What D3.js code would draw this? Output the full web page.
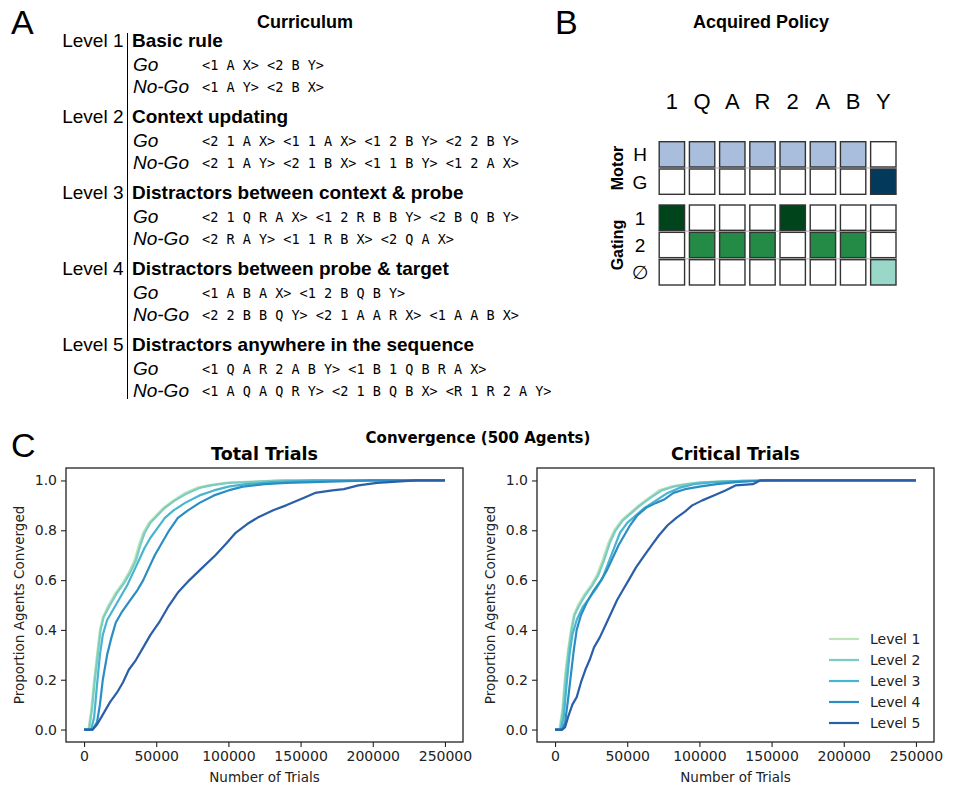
<!DOCTYPE html>
<html>
<head>
<meta charset="utf-8">
<script src="https://cdn.jsdelivr.net/npm/d3@7"></script>
<style>
  html, body { margin: 0; padding: 0; background: #fff; }
  svg { display: block; }
</style>
</head>
<body>
<svg id="fig" width="957" height="789"></svg>
<script>
// ---------------- DATA ----------------
// Panel A: curriculum
const levelNames = ["Level 1", "Level 2", "Level 3", "Level 4", "Level 5"];
const levelTitles = ["Basic rule", "Context updating", "Distractors between context & probe",
  "Distractors between probe & target", "Distractors anywhere in the sequence"];
const goSequences = ["<1 A X> <2 B Y>", "<2 1 A X> <1 1 A X> <1 2 B Y> <2 2 B Y>",
  "<2 1 Q R A X> <1 2 R B B Y> <2 B Q B Y>", "<1 A B A X> <1 2 B Q B Y>",
  "<1 Q A R 2 A B Y> <1 B 1 Q B R A X>"];
const noGoSequences = ["<1 A Y> <2 B X>", "<2 1 A Y> <2 1 B X> <1 1 B Y> <1 2 A X>",
  "<2 R A Y> <1 1 R B X> <2 Q A X>", "<2 2 B B Q Y> <2 1 A A R X> <1 A A B X>",
  "<1 A Q A Q R Y> <2 1 B Q B X> <R 1 R 2 A Y>"];

// Panel B: acquired policy
const policyTokens = ["1", "Q", "A", "R", "2", "A", "B", "Y"];
const motorRows = ["H", "G"];
const gatingRows = ["1", "2", "\u2205"];
const motorPolicy = [[1,1,1,1,1,1,1,0],[0,0,0,0,0,0,0,1]];
const gatingPolicy = [[1,0,0,0,1,0,0,0],[0,1,1,1,0,1,1,0],[0,0,0,0,0,0,0,1]];
const motorColors = ["#a8bedc", "#033a5c"];
const gatingColors = ["#00441b", "#238b45", "#99d8c9"];

// Panel C: convergence curves  [trials, proportion converged]
const totalLevel1 = [[0,0],[3000,0],[5000,0.08],[7000,0.2],[9000,0.3],[11000,0.4],[13000,0.45],[17000,0.5],[22000,0.55],[27000,0.59],[31000,0.63],[35000,0.68],[38000,0.74],[41000,0.79],[45000,0.83],[50000,0.86],[55000,0.89],[62000,0.92],[70000,0.95],[78000,0.97],[86000,0.98],[98000,0.99],[115000,0.995],[135000,1.0],[250000,1.0]];
const totalLevel2 = [[0,0],[3500,0],[5500,0.08],[7500,0.2],[9500,0.3],[11500,0.4],[13500,0.45],[18000,0.5],[23000,0.55],[28000,0.59],[32000,0.63],[36000,0.68],[39000,0.74],[42000,0.79],[46000,0.83],[51000,0.86],[56000,0.89],[63000,0.92],[72000,0.95],[80000,0.97],[88000,0.98],[100000,0.99],[120000,0.995],[140000,1.0],[250000,1.0]];
const totalLevel3 = [[0,0],[5000,0],[7000,0.05],[9000,0.18],[11000,0.3],[13000,0.38],[16000,0.44],[20000,0.48],[25000,0.53],[30000,0.58],[34000,0.63],[38000,0.68],[42000,0.73],[46000,0.77],[51000,0.81],[56000,0.85],[62000,0.88],[70000,0.91],[80000,0.94],[90000,0.96],[100000,0.975],[112000,0.985],[130000,0.993],[160000,1.0],[250000,1.0]];
const totalLevel4 = [[0,0],[6000,0],[9000,0.03],[11000,0.1],[13000,0.2],[16000,0.3],[19000,0.37],[22000,0.43],[26000,0.47],[32000,0.52],[37000,0.56],[41000,0.6],[45000,0.65],[49000,0.7],[54000,0.75],[59000,0.8],[65000,0.85],[72000,0.88],[80000,0.91],[90000,0.94],[100000,0.96],[110000,0.975],[125000,0.985],[140000,0.99],[170000,0.995],[200000,1.0],[250000,1.0]];
const totalLevel5 = [[0,0],[6000,0],[9000,0.02],[12000,0.05],[15000,0.08],[18000,0.11],[23000,0.15],[27000,0.19],[31000,0.24],[36000,0.28],[41000,0.33],[46000,0.38],[52000,0.43],[58000,0.49],[65000,0.55],[73000,0.6],[82000,0.65],[91000,0.7],[99000,0.75],[105000,0.79],[113000,0.825],[120000,0.85],[131000,0.88],[140000,0.9],[152000,0.93],[160000,0.95],[172000,0.96],[180000,0.965],[190000,0.98],[203000,0.99],[230000,1.0],[250000,1.0]];

const criticalLevel1 = [[0,0],[3000,0],[5000,0.08],[7000,0.22],[9000,0.32],[11000,0.4],[13000,0.46],[16000,0.5],[20000,0.54],[25000,0.58],[29000,0.62],[33000,0.68],[37000,0.75],[41000,0.8],[46000,0.84],[52000,0.87],[58000,0.9],[65000,0.93],[72000,0.96],[80000,0.975],[90000,0.985],[100000,0.992],[120000,0.997],[150000,1.0],[250000,1.0]];
const criticalLevel2 = [[0,0],[3500,0],[5500,0.08],[7500,0.22],[9500,0.32],[11500,0.4],[13500,0.46],[17000,0.5],[21000,0.54],[26000,0.58],[30000,0.62],[34000,0.68],[38000,0.75],[42000,0.8],[47000,0.84],[53000,0.87],[59000,0.9],[66000,0.93],[74000,0.96],[82000,0.975],[92000,0.985],[102000,0.992],[125000,0.997],[155000,1.0],[250000,1.0]];
const criticalLevel3 = [[0,0],[4000,0],[6000,0.05],[8000,0.18],[10000,0.3],[12000,0.38],[15000,0.44],[19000,0.49],[24000,0.53],[29000,0.57],[33000,0.61],[37000,0.67],[41000,0.73],[45000,0.79],[50000,0.83],[56000,0.86],[62000,0.89],[70000,0.92],[78000,0.95],[86000,0.97],[96000,0.985],[110000,0.993],[130000,0.998],[160000,1.0],[250000,1.0]];
const criticalLevel4 = [[0,0],[5000,0],[7000,0.03],[9000,0.12],[11000,0.22],[13000,0.32],[15000,0.4],[18000,0.46],[22000,0.51],[27000,0.56],[32000,0.6],[36000,0.64],[40000,0.69],[44000,0.74],[48000,0.78],[52000,0.82],[57000,0.86],[63000,0.89],[70000,0.91],[76000,0.925],[82000,0.95],[90000,0.965],[100000,0.975],[112000,0.985],[125000,0.993],[145000,1.0],[250000,1.0]];
const criticalLevel5 = [[0,0],[5000,0],[7000,0.01],[9000,0.05],[12000,0.1],[15000,0.13],[18000,0.19],[21000,0.24],[24000,0.28],[27000,0.33],[31000,0.37],[35000,0.42],[39000,0.47],[43000,0.52],[47000,0.56],[51000,0.6],[56000,0.65],[62000,0.7],[67000,0.74],[72000,0.78],[78000,0.82],[84000,0.85],[90000,0.875],[95000,0.9],[102000,0.92],[110000,0.94],[118000,0.96],[125000,0.98],[137000,0.985],[142000,1.0],[250000,1.0]];

const levelColors = ["#bbe4b7", "#7bccc2", "#48b4cf", "#2a8dc3", "#2a5fa8"];
const xTicks = [0, 50000, 100000, 150000, 200000, 250000];
const yTicks = [0, 0.2, 0.4, 0.6, 0.8, 1.0];

// ---------------- DRAW ----------------
const svg = d3.select("#fig");
const ARIAL = "Liberation Sans, Arial, Helvetica, sans-serif";
const DJV = "DejaVu Sans, sans-serif";
const MONO = "DejaVu Sans Mono, monospace";

// panel letters
[["A", 11, 34], ["B", 555, 34], ["C", 11, 457]].forEach(([t, x, y]) => {
  svg.append("text").attr("x", x).attr("y", y).text(t)
    .style("font-family", ARIAL).style("font-size", "34px").attr("fill", "#000");
});

// ---- Panel A ----
const gA = svg.append("g");
gA.append("text").attr("x", 305).attr("y", 28).attr("text-anchor", "middle")
  .text("Curriculum").style("font-family", ARIAL).style("font-size", "18px").style("font-weight", "bold");

const levelY = d3.scalePoint().domain(d3.range(5)).range([47, 351]);
gA.append("line").attr("x1", 127.5).attr("x2", 127.5).attr("y1", 33).attr("y2", 399)
  .attr("stroke", "#000").attr("stroke-width", 1);

levelNames.forEach((name, i) => {
  const y = levelY(i);
  gA.append("text").attr("x", 123.5).attr("y", y).attr("text-anchor", "end").text(name)
    .style("font-family", ARIAL).style("font-size", "19px");
  gA.append("text").attr("x", 132).attr("y", y).text(levelTitles[i])
    .style("font-family", ARIAL).style("font-size", "19px").style("font-weight", "bold");
  gA.append("text").attr("x", 133).attr("y", y + 24).text("Go")
    .style("font-family", ARIAL).style("font-size", "19px").style("font-style", "italic");
  gA.append("text").attr("x", 133).attr("y", y + 46).text("No-Go")
    .style("font-family", ARIAL).style("font-size", "19px").style("font-style", "italic");
  gA.append("text").attr("x", 202).attr("y", y + 23).text(goSequences[i])
    .style("font-family", MONO).style("font-size", "13.5px");
  gA.append("text").attr("x", 202).attr("y", y + 45).text(noGoSequences[i])
    .style("font-family", MONO).style("font-size", "13.5px");
});

// ---- Panel B ----
const gB = svg.append("g");
gB.append("text").attr("x", 761).attr("y", 28).attr("text-anchor", "middle")
  .text("Acquired Policy").style("font-family", ARIAL).style("font-size", "18px").style("font-weight", "bold");

const colX = d3.scaleBand().domain(d3.range(policyTokens.length)).range([659.2, 896]).paddingInner(0.16);
const motorY = d3.scaleBand().domain(d3.range(motorRows.length)).range([141.7, 194.3]).paddingInner(0.075);
const gatingY = d3.scaleBand().domain(d3.range(gatingRows.length)).range([205, 285]).paddingInner(0.075);

gB.selectAll("text.tok").data(policyTokens).join("text").attr("class", "tok")
  .attr("x", (d, i) => colX(i) + colX.bandwidth() / 2).attr("y", 109)
  .attr("text-anchor", "middle").text(d => d)
  .style("font-family", ARIAL).style("font-size", "22px");

function drawGrid(matrix, rows, yScale, colors, groupLabel) {
  rows.forEach((r, ri) => {
    if (ri > 0) {
      const yy = yScale(ri) - (yScale.step() - yScale.bandwidth()) / 2;
      gB.append("line").attr("x1", colX(0) - 1).attr("x2", colX(policyTokens.length - 1) + colX.bandwidth() + 1)
        .attr("y1", yy).attr("y2", yy).attr("stroke", "#c8c8c8").attr("stroke-width", 1.5);
    }
  });
  matrix.forEach((row, ri) => {
    row.forEach((v, ci) => {
      gB.append("rect").attr("x", colX(ci)).attr("y", yScale(ri))
        .attr("width", colX.bandwidth()).attr("height", yScale.bandwidth())
        .attr("fill", v ? colors[ri] : "#fff").attr("stroke", "#333").attr("stroke-width", 1.4);
    });
    gB.append("text").attr("x", 640).attr("y", yScale(ri) + yScale.bandwidth() / 2 + 7)
      .attr("text-anchor", "middle").text(rows[ri])
      .style("font-family", rows[ri] === "\u2205" ? DJV : ARIAL).style("font-size", "19px");
  });
  const [y0, y1] = yScale.range();
  const cy = (y0 + y1) / 2;
  gB.append("text").attr("transform", `translate(623,${cy}) rotate(-90)`)
    .attr("text-anchor", "middle").text(groupLabel)
    .style("font-family", ARIAL).style("font-size", "16px").style("font-weight", "bold");
}
drawGrid(motorPolicy, motorRows, motorY, motorColors, "Motor");
drawGrid(gatingPolicy, gatingRows, gatingY, gatingColors, "Gating");

// ---- Panel C ----
svg.append("text").attr("x", 478).attr("y", 443).attr("text-anchor", "middle")
  .text("Convergence (500 Agents)").style("font-family", DJV).style("font-size", "15px").style("font-weight", "bold");

function drawConvergence(left, top, width, height, title, series, showLegend) {
  const g = svg.append("g").attr("transform", `translate(${left},${top})`);
  const x = d3.scaleLinear().domain([-12500, 262500]).range([0, width]);
  const y = d3.scaleLinear().domain([-0.05, 1.05]).range([height, 0]);

  const line = d3.line().x(d => x(d[0])).y(d => y(d[1]));
  series.forEach((s, i) => {
    g.append("path").datum(s).attr("d", line).attr("fill", "none")
      .attr("stroke", levelColors[i]).attr("stroke-width", 2.2).attr("stroke-linejoin", "round");
  });

  const xAxis = g.append("g").attr("transform", `translate(0,${height})`)
    .call(d3.axisBottom(x).tickValues(xTicks).tickFormat(d3.format("d")).tickSize(5).tickPadding(4));
  const yAxis = g.append("g")
    .call(d3.axisLeft(y).tickValues(yTicks).tickFormat(d3.format(".1f")).tickSize(5).tickPadding(4));
  [xAxis, yAxis].forEach(a => {
    a.select(".domain").remove();
    a.selectAll("text").style("font-family", DJV).style("font-size", "14px").attr("fill", "#222");
    a.selectAll("line").attr("stroke", "#222").attr("stroke-width", 1.1);
  });

  g.append("rect").attr("width", width).attr("height", height).attr("fill", "none")
    .attr("stroke", "#222").attr("stroke-width", 1.3);

  g.append("text").attr("x", width / 2).attr("y", -8).attr("text-anchor", "middle").text(title)
    .style("font-family", DJV).style("font-size", "17.5px").style("font-weight", "bold");
  g.append("text").attr("x", width / 2).attr("y", height + 40).attr("text-anchor", "middle")
    .text("Number of Trials").style("font-family", DJV).style("font-size", "13.5px").attr("fill", "#222");
  g.append("text").attr("transform", `translate(-42,${height / 2}) rotate(-90)`).attr("text-anchor", "middle")
    .text("Proportion Agents Converged").style("font-family", DJV).style("font-size", "13.5px").attr("fill", "#222");

  if (showLegend) {
    const lg = g.append("g").attr("transform", `translate(${width - 105},${height - 103})`);
    levelNames.forEach((name, i) => {
      const ly = i * 21;
      lg.append("line").attr("x1", 0).attr("x2", 30).attr("y1", ly).attr("y2", ly)
        .attr("stroke", levelColors[i]).attr("stroke-width", 2.2);
      lg.append("text").attr("x", 41).attr("y", ly + 5).text(name)
        .style("font-family", DJV).style("font-size", "14px").attr("fill", "#222");
    });
  }
}

drawConvergence(66, 468, 397, 274, "Total Trials",
  [totalLevel1, totalLevel2, totalLevel3, totalLevel4, totalLevel5], false);
drawConvergence(537, 468, 397, 274, "Critical Trials",
  [criticalLevel1, criticalLevel2, criticalLevel3, criticalLevel4, criticalLevel5], true);
</script>
</body>
</html>
